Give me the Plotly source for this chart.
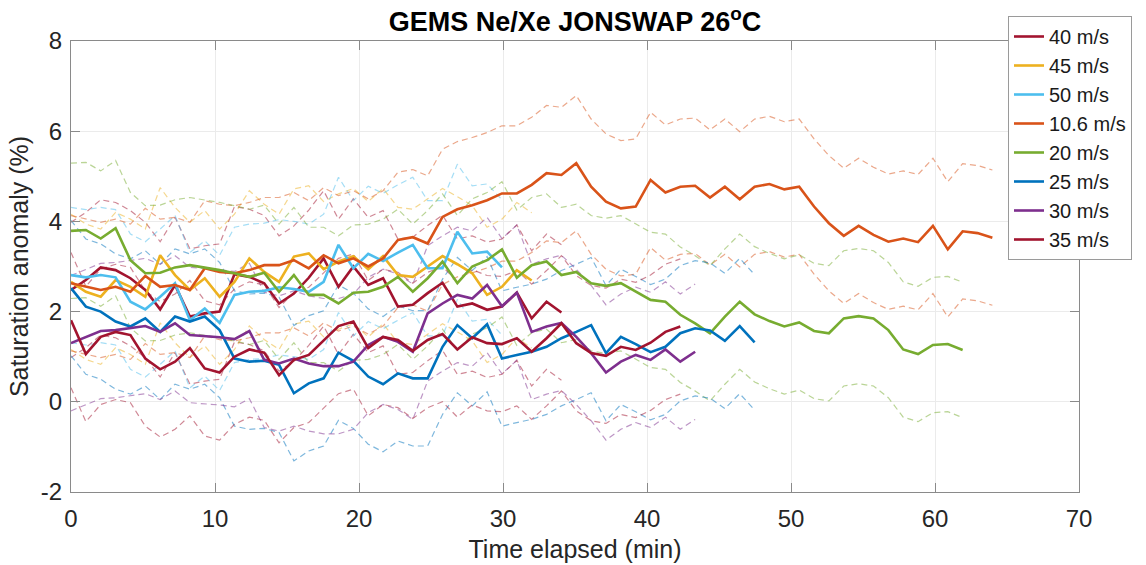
import numpy as np
import plotly.graph_objects as go

# ---- data ----
sample_interval_min = 1.032  # spacing of the samples along the time axis

labels = ["40 m/s", "45 m/s", "50 m/s", "10.6 m/s", "20 m/s", "25 m/s", "30 m/s", "35 m/s"]
colors = ["#A2142F", "#EDB120", "#4DBEEE", "#D95319", "#77AC30", "#0072BD", "#7E2F8E", "#A2142F"]

anom_40 = [2.48, 2.70, 2.98, 2.92, 2.74, 2.48, 2.05, 2.59, 1.89, 1.96, 2.00, 2.83, 2.77, 2.63,
           2.18, 2.40, 2.75, 3.18, 2.55, 3.00, 2.59, 2.74, 2.11, 2.15, 2.41, 2.64, 2.11, 2.18,
           2.04, 2.11, 2.42, 1.85, 2.22, 1.98]
anom_45 = [2.66, 2.44, 2.33, 2.70, 2.55, 2.33, 3.25, 2.81, 2.48, 2.74, 2.33, 2.66, 3.18, 2.88,
           2.66, 3.22, 3.29, 2.94, 3.11, 3.23, 2.94, 3.23, 2.81, 2.77, 3.00, 3.23, 3.05, 2.85,
           2.37, 2.55, 2.92, 2.69]
anom_50 = [2.81, 2.76, 2.81, 2.76, 2.22, 2.05, 2.33, 2.63, 1.81, 2.07, 1.75, 2.37, 2.44, 2.46,
           2.54, 2.50, 2.44, 2.66, 3.48, 2.96, 3.28, 3.12, 3.31, 3.48, 2.96, 2.96, 3.77, 3.29,
           3.33, 2.98]
anom_10_6 = [2.63, 2.55, 2.48, 2.55, 2.44, 2.79, 2.55, 2.59, 2.48, 2.96, 2.88, 2.85, 2.92, 3.03,
             3.03, 3.14, 2.96, 3.25, 3.07, 3.18, 3.00, 3.18, 3.59, 3.65, 3.51, 4.10, 4.27, 4.36,
             4.47, 4.62, 4.62, 4.81, 5.07, 5.03, 5.29, 4.77, 4.44, 4.29, 4.33, 4.92, 4.64, 4.77,
             4.79, 4.53, 4.77, 4.49, 4.77, 4.83, 4.71, 4.77, 4.33, 3.96, 3.68, 3.90, 3.70, 3.55,
             3.62, 3.54, 3.90, 3.38, 3.78, 3.74, 3.64]
anom_20 = [3.79, 3.81, 3.62, 3.85, 3.14, 2.85, 2.86, 2.98, 3.03, 2.98, 2.92, 2.85, 2.77, 2.86,
           2.44, 2.81, 2.37, 2.37, 2.18, 2.42, 2.44, 2.55, 2.77, 2.44, 2.74, 3.11, 2.63, 3.00,
           3.14, 3.38, 2.75, 3.03, 3.11, 2.81, 2.88, 2.63, 2.57, 2.63, 2.44, 2.26, 2.22, 1.93,
           1.74, 1.52, 1.89, 2.22, 1.94, 1.79, 1.67, 1.76, 1.57, 1.52, 1.85, 1.90, 1.85, 1.59,
           1.16, 1.06, 1.26, 1.28, 1.15]
anom_25 = [2.52, 2.11, 2.00, 1.78, 1.67, 1.85, 1.55, 1.89, 1.78, 1.89, 1.59, 0.96, 0.89, 0.91,
           0.82, 0.19, 0.41, 0.52, 1.09, 0.91, 0.56, 0.39, 0.63, 0.52, 0.52, 1.22, 1.70, 1.41,
           1.72, 0.96, 1.04, 1.11, 1.22, 1.41, 1.55, 1.70, 1.08, 1.44, 1.28, 1.10, 1.22, 1.52,
           1.63, 1.58, 1.35, 1.68, 1.32]
anom_30 = [1.30, 1.44, 1.57, 1.59, 1.63, 1.68, 1.55, 1.74, 1.48, 1.46, 1.43, 1.39, 1.57, 0.93,
           0.85, 0.96, 0.85, 0.79, 0.79, 0.89, 1.26, 1.44, 1.33, 1.11, 1.96, 2.18, 2.37, 2.29,
           2.59, 2.12, 2.42, 1.55, 1.67, 1.75, 1.44, 1.08, 0.65, 0.89, 1.04, 0.93, 1.16, 0.89,
           1.11]
anom_35 = [1.81, 1.06, 1.44, 1.55, 1.48, 0.96, 0.72, 0.89, 1.19, 0.74, 0.65, 1.00, 1.16, 1.09,
           0.59, 0.93, 1.04, 1.37, 1.68, 1.78, 1.19, 1.44, 1.37, 1.13, 1.37, 1.50, 1.16, 1.43,
           1.30, 1.28, 1.41, 1.11, 1.41, 1.74, 1.30, 1.08, 1.02, 1.22, 1.15, 1.31, 1.55, 1.67]

# half-width of the dashed uncertainty envelope for each series (percent)
uncertainty = [1.5, 1.5, 1.5, 1.5, 1.5, 1.5, 1.5, 1.5]

series = [anom_40, anom_45, anom_50, anom_10_6, anom_20, anom_25, anom_30, anom_35]

x_ticks = [0, 10, 20, 30, 40, 50, 60, 70]
y_ticks = [-2, 0, 2, 4, 6, 8]
y_tick_text = ["-2", "0", "2", "4", "6", "8"]

FONT = "Liberation Sans, Arial, sans-serif"

# ---- figure ----
fig = go.Figure()

# dashed envelopes (drawn first, beneath the means)
for vals, col, unc in zip(series, colors, uncertainty):
    v = np.array(vals)
    t = np.arange(len(v)) * sample_interval_min
    for bound in (v + unc, v - unc):
        fig.add_trace(go.Scatter(
            x=t, y=bound, mode="lines", showlegend=False, hoverinfo="skip",
            line=dict(color=col, width=1.2, dash="6px,4px"), opacity=0.5))

# mean lines
for vals, col, lab in zip(series, colors, labels):
    v = np.array(vals)
    t = np.arange(len(v)) * sample_interval_min
    fig.add_trace(go.Scatter(
        x=t, y=v, mode="lines", name=lab,
        line=dict(color=col, width=2.6)))

axis_common = dict(
    showgrid=True, gridcolor="#ebebeb", gridwidth=1,
    showline=True, linecolor="#8a8a8a", linewidth=1.2, mirror="ticks",
    ticks="inside", ticklen=9, tickwidth=1.2, tickcolor="#8a8a8a",
    zeroline=False, automargin=False,
    tickfont=dict(family=FONT, size=24, color="#262626"),
    title_font=dict(family=FONT, size=25, color="#262626"),
)

fig.update_layout(
    width=1146, height=565,
    margin=dict(l=71, r=67, t=41, b=73),
    paper_bgcolor="white", plot_bgcolor="white",
    title=dict(text="<b>GEMS Ne/Xe JONSWAP 26<sup>o</sup>C</b>",
               x=0.5, xref="paper", xanchor="center",
               y=1 - 22 / 565, yanchor="middle",
               font=dict(family=FONT, size=27, color="black")),
    xaxis=dict(range=[0, 70], tickvals=x_ticks,
               title=dict(text="Time elapsed (min)", standoff=9),
               ticklabelstandoff=5, **axis_common),
    yaxis=dict(range=[-2, 8], tickvals=y_ticks, ticktext=y_tick_text,
               title=dict(text="Saturation anomaly (%)", standoff=5),
               ticklabelstandoff=3, **axis_common),
    legend=dict(x=(1008 - 71) / 1008, xanchor="left", y=(492 - 16) / 451, yanchor="top",
                bgcolor="white", bordercolor="#9a9a9a", borderwidth=1,
                font=dict(family=FONT, size=20, color="#1a1a1a"),
                tracegroupgap=0, itemwidth=30),
    showlegend=True,
)

fig.write_html("out.html")
